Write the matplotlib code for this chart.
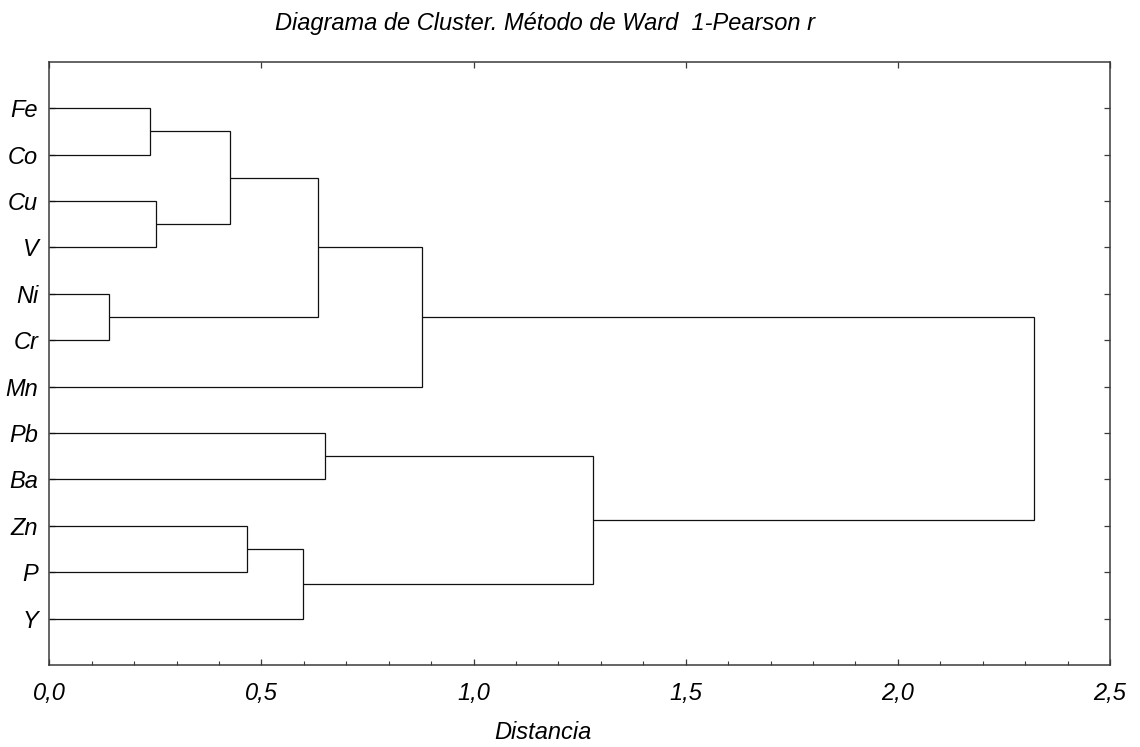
import matplotlib
matplotlib.use('Agg')
import matplotlib.pyplot as plt
from matplotlib.ticker import MultipleLocator, FuncFormatter

plt.rcParams['font.family'] = ['Liberation Sans', 'DejaVu Sans']
plt.rcParams['font.style'] = 'italic'

# Leaf order from top to bottom
leaves = ['Fe', 'Co', 'Cu', 'V', 'Ni', 'Cr', 'Mn', 'Pb', 'Ba', 'Zn', 'P', 'Y']

# Ward merges (1-Pearson r). Members are leaf names or the index of an earlier merge.
merge_a = ['Fe', 'Cu', 'Ni', 0, 3, 4, 'Pb', 'Zn', 7, 6, 5]
merge_b = ['Co', 'V', 'Cr', 1, 2, 'Mn', 'Ba', 'P', 'Y', 8, 9]
merge_dist = [0.238, 0.252, 0.140, 0.425, 0.633, 0.879, 0.650, 0.465, 0.597, 1.282, 2.321]

LINE = '#111111'
SPINE = '#3a3a3a'
FS = 17

fig = plt.figure(figsize=(11.4, 7.47), dpi=100)
ax = fig.add_axes([0.0433, 0.1098, 0.9304, 0.8076])

leaf_pos = {name: i + 1 for i, name in enumerate(leaves)}
node_xy = []


def member_xy(m):
    if isinstance(m, str):
        return 0.0, leaf_pos[m]
    return node_xy[m]


for a, b, d in zip(merge_a, merge_b, merge_dist):
    xa, ya = member_xy(a)
    xb, yb = member_xy(b)
    ax.plot([xa, d, d, xb], [ya, ya, yb, yb], color=LINE, lw=0.9,
            solid_joinstyle='miter', solid_capstyle='butt')
    node_xy.append((d, (ya + yb) / 2))

ax.set_xlim(0, 2.5)
ax.set_ylim(len(leaves) + 1, 0)

ax.set_yticks(range(1, len(leaves) + 1))
ax.set_yticklabels(leaves)
ax.xaxis.set_major_locator(MultipleLocator(0.5))
ax.xaxis.set_minor_locator(MultipleLocator(0.1))
ax.xaxis.set_major_formatter(FuncFormatter(lambda v, p: f'{v:.1f}'.replace('.', ',')))

ax.tick_params(axis='x', which='major', direction='in', length=4, width=0.9,
               color=SPINE, top=True, labelsize=FS, pad=12)
ax.tick_params(axis='x', which='minor', direction='in', length=3, width=0.8,
               color=SPINE, top=False)
ax.tick_params(axis='y', which='major', direction='in', length=4, width=0.9,
               color=SPINE, right=True, labelsize=FS, pad=8)

for sp in ax.spines.values():
    sp.set_color(SPINE)
    sp.set_linewidth(1.1)

fig.text(545 / 1140, 1 - 30 / 747, 'Diagrama de Cluster. Método de Ward  1-Pearson r',
         ha='center', va='baseline', fontsize=FS, style='italic')
fig.text(543 / 1140, 1 - 739 / 747, 'Distancia',
         ha='center', va='baseline', fontsize=FS, style='italic')

fig.savefig('out.png', dpi=100)
